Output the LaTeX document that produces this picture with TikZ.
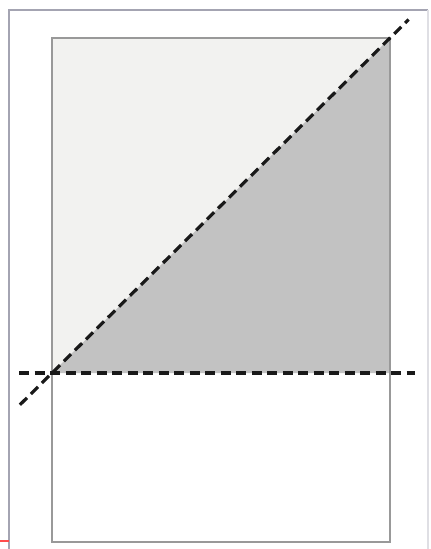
\documentclass[tikz,border=0pt]{standalone}
\usepackage{xcolor}
\usetikzlibrary{calc}
\definecolor{paperlight}{HTML}{F2F2F0}
\definecolor{paperdark}{HTML}{C2C2C2}
\definecolor{framegrey}{HTML}{A4A4B2}
\tikzset{
  frame/.style={
    draw = framegrey,
    line width = 0.12cm
  },
  sheet/.style={
    draw = gray!80,
    line width = 0.15cm
  },
  cut/.style={
    dashed,
    dash pattern = on 1.0cm off 0.55cm,
    line width = 0.32cm,
    black!90
  },
}
\begin{document}
\begin{tikzpicture}[x=0.1cm,y=-0.1cm]
        \useasboundingbox (0,0) rectangle (430,549);

        % corners of the sheet
        \coordinate (tl) at (52,38);
        \coordinate (tr) at (390,38);
        \coordinate (ml) at (52,373);
        \coordinate (mr) at (390,373);
        \coordinate (bl) at (52,542);
        \coordinate (br) at (390,542);

        % outer frame
        \draw[frame] (9,549) -- (9,10) -- (428,10);
        \draw[frame, draw=framegrey!35] (428,10) -- (428,549);
        \draw[red!70, line width=0.2cm] (0,541) -- (9,541);

        % fills
        \fill[paperlight] (tl) -- (tr) -- (ml) -- cycle;
        \fill[paperdark] (tr) -- (mr) -- (ml) -- cycle;

        % sheet
        \draw[sheet] (tl) rectangle (br);

        % dashed lines
        \draw[cut] ($(ml)!-0.095!(tr)$) -- ($(ml)!1.055!(tr)$);
        \draw[cut] ($(ml)!-0.097!(mr)$) -- ($(ml)!1.075!(mr)$);
\end{tikzpicture}
\end{document}
